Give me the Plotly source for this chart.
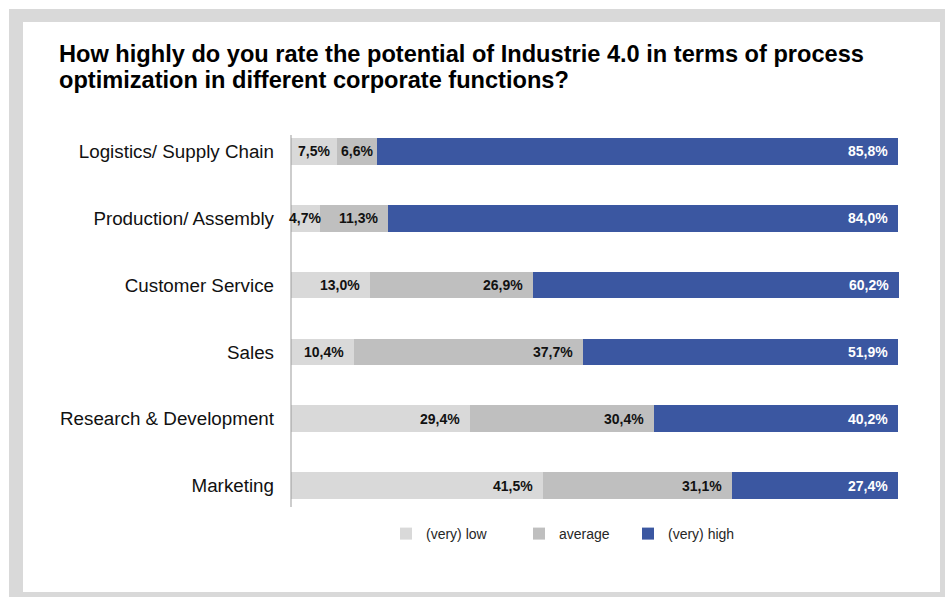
import plotly.graph_objects as go

categories = ["Logistics/ Supply Chain", "Production/ Assembly", "Customer Service",
              "Sales", "Research & Development", "Marketing"]
low = [7.5, 4.7, 13.0, 10.4, 29.4, 41.5]
average = [6.6, 11.3, 26.9, 37.7, 30.4, 31.1]
high = [85.8, 84.0, 60.2, 51.9, 40.2, 27.4]
series_names = ["(very) low", "average", "(very) high"]
title_lines = ["How highly do you rate the potential of Industrie 4.0 in terms of process",
               "optimization in different corporate functions?"]

colors = ["#d9d9d9", "#bfbfbf", "#3b57a1"]
label_colors = ["#111111", "#111111", "#ffffff"]

W, H = 947, 597
ML, MR, MT, MB = 291, 48, 118, 78
PW, PH = W - ML - MR, H - MT - MB

def px_x(p):
    return (p - ML) / PW

def px_y(p):
    return (H - MB - p) / PH

def fmt(v):
    return f"{v:.1f}".replace(".", ",") + "%"

CHAR_W = {",": 3.9, "%": 12.4}
def text_w(s):
    return sum(CHAR_W.get(c, 7.8) for c in s)

series = [low, average, high]
totals = [a + b + c for a, b, c in zip(low, average, high)]
xmax = max(100.0, max(totals))

fig = go.Figure()
legend_ids = ["legend", "legend2", "legend3"]
for vals, name, col, lid in zip(series, series_names, colors, legend_ids):
    fig.add_trace(go.Bar(
        y=categories, x=vals, name=name, orientation="h",
        marker=dict(color=col, line=dict(width=0)),
        legend=lid, hoverinfo="x+name",
    ))

# data labels (inside end; centred when the segment is too narrow)
annotations = []
for i, cat in enumerate(categories):
    start = 0.0
    for s, vals in enumerate(series):
        v = vals[i]
        end = start + v
        txt = fmt(v)
        seg_px = v / xmax * PW
        if text_w(txt) + 16 > seg_px:
            ax, anchor, shift = (start + end) / 2, "center", 0
        else:
            ax, anchor, shift = end, "right", -8
        annotations.append(dict(
            x=ax, y=cat, xref="x", yref="y", text="<b>" + txt + "</b>",
            showarrow=False, xanchor=anchor, xshift=shift, yanchor="middle",
            font=dict(family="Liberation Sans, Arial, sans-serif", size=14,
                      color=label_colors[s]),
        ))
        start = end

# title (two lines)
for line, ypx in zip(title_lines, [54, 80]):
    annotations.append(dict(
        x=px_x(57), y=px_y(ypx), xref="paper", yref="paper", xanchor="left",
        yanchor="middle", align="left", showarrow=False,
        text="<b>" + line + "</b>",
        font=dict(family="Liberation Sans, Arial, sans-serif", size=23.6, color="#000000"),
    ))

shapes = [
    dict(type="rect", xref="paper", yref="paper", layer="below",
         x0=px_x(9), x1=px_x(945), y0=px_y(600), y1=px_y(9),
         fillcolor="#d9d9d9", line=dict(width=0)),
    dict(type="rect", xref="paper", yref="paper", layer="below",
         x0=px_x(23), x1=px_x(940), y0=px_y(592), y1=px_y(22),
         fillcolor="#ffffff", line=dict(width=0)),
    dict(type="line", xref="paper", yref="paper", layer="above",
         x0=0, x1=0, y0=px_y(507), y1=px_y(135),
         line=dict(color="#9b9b9b", width=1)),
]

legend_font = dict(family="Liberation Sans, Arial, sans-serif", size=14, color="#262626")
leg_common = dict(orientation="h", xanchor="left", yanchor="middle", y=px_y(534),
                  font=legend_font, bgcolor="rgba(0,0,0,0)", borderwidth=0,
                  itemclick=False, itemdoubleclick=False)

fig.update_layout(
    width=W, height=H,
    margin=dict(l=ML, r=MR, t=MT, b=MB, pad=0),
    paper_bgcolor="#ffffff", plot_bgcolor="rgba(0,0,0,0)",
    barmode="stack", bargap=0.6,
    showlegend=True,
    legend=dict(x=px_x(386), **leg_common),
    legend2=dict(x=px_x(519), **leg_common),
    legend3=dict(x=px_x(628), **leg_common),
    xaxis=dict(range=[0, xmax], visible=False, fixedrange=True),
    yaxis=dict(categoryorder="array", categoryarray=categories[::-1],
               showline=False, showgrid=False, zeroline=False, ticks="",
               ticklabelstandoff=16, fixedrange=True,
               tickfont=dict(family="Liberation Sans, Arial, sans-serif", size=18.8,
                             color="#111111")),
    annotations=annotations,
    shapes=shapes,
    font=dict(family="Liberation Sans, Arial, sans-serif"),
)

fig.write_html("out.html", config={"displayModeBar": False})
